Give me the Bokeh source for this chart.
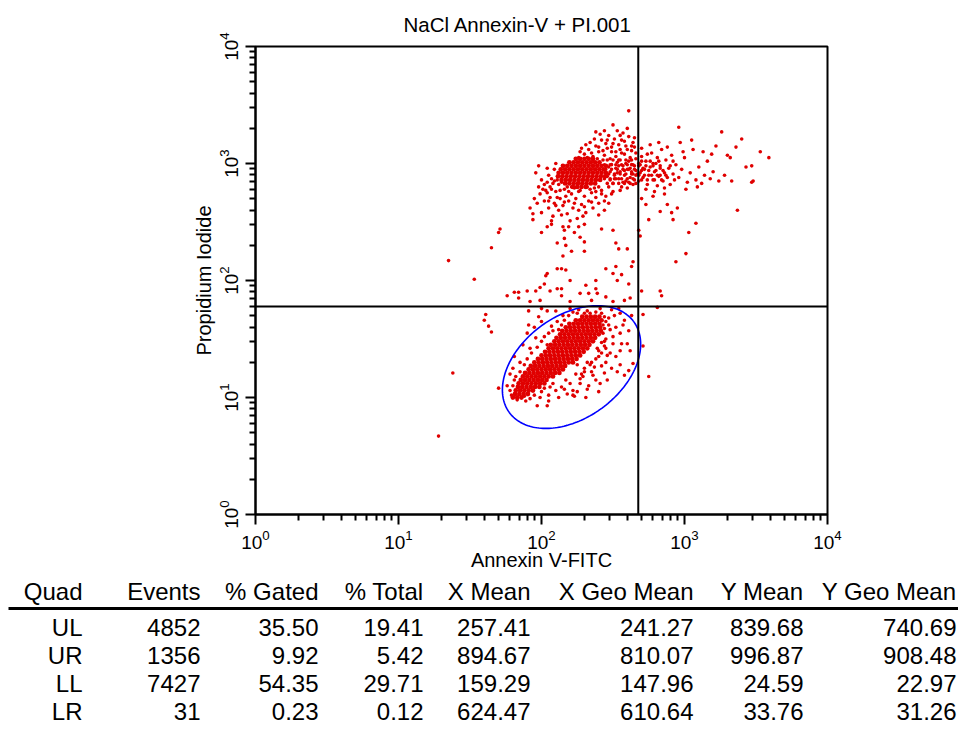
import numpy as np
from bokeh.plotting import figure
from bokeh.models import Span, Range1d, ColumnDataSource, FixedTicker
from bokeh.embed import file_html
from bokeh.resources import INLINE
from bokeh.core.properties import value

FONT = "Liberation Sans"

# ---------------- data (log10 of fluorescence intensity) ----------------
# Lower-left (viable) dense population, one list of x per row of y
ll_core_logy = [1.00, 1.03, 1.06, 1.09, 1.12, 1.15, 1.18, 1.21, 1.24, 1.27, 1.30, 1.33,
                1.36, 1.39, 1.42, 1.45, 1.48, 1.51, 1.54, 1.57, 1.60, 1.63, 1.66, 1.69]
ll_core_logx = [
    [1.80, 1.83, 1.86],
    [1.815, 1.845, 1.875, 1.905],
    [1.82, 1.85, 1.88, 1.91, 1.94],
    [1.835, 1.865, 1.895, 1.925, 1.955, 1.985],
    [1.84, 1.87, 1.90, 1.93, 1.96, 1.99, 2.02],
    [1.855, 1.885, 1.915, 1.945, 1.975, 2.005, 2.035],
    [1.87, 1.90, 1.93, 1.96, 1.99, 2.02, 2.05, 2.08],
    [1.885, 1.915, 1.945, 1.975, 2.005, 2.035, 2.065, 2.095, 2.125],
    [1.91, 1.94, 1.97, 2.00, 2.03, 2.06, 2.09, 2.12, 2.15],
    [1.925, 1.955, 1.985, 2.015, 2.045, 2.075, 2.105, 2.135, 2.165],
    [1.95, 1.98, 2.01, 2.04, 2.07, 2.10, 2.13, 2.16, 2.19, 2.22],
    [1.975, 2.005, 2.035, 2.065, 2.095, 2.125, 2.155, 2.185, 2.215, 2.245],
    [2.00, 2.03, 2.06, 2.09, 2.12, 2.15, 2.18, 2.21, 2.24, 2.27],
    [2.025, 2.055, 2.085, 2.115, 2.145, 2.175, 2.205, 2.235, 2.265, 2.295],
    [2.05, 2.08, 2.11, 2.14, 2.17, 2.20, 2.23, 2.26, 2.29, 2.32],
    [2.065, 2.095, 2.125, 2.155, 2.185, 2.215, 2.245, 2.275, 2.305, 2.335],
    [2.09, 2.12, 2.15, 2.18, 2.21, 2.24, 2.27, 2.30, 2.33, 2.36],
    [2.105, 2.135, 2.165, 2.195, 2.225, 2.255, 2.285, 2.315, 2.345, 2.375],
    [2.13, 2.16, 2.19, 2.22, 2.25, 2.28, 2.31, 2.34, 2.37, 2.40],
    [2.145, 2.175, 2.205, 2.235, 2.265, 2.295, 2.325, 2.355, 2.385, 2.415],
    [2.17, 2.20, 2.23, 2.26, 2.29, 2.32, 2.35, 2.38, 2.41],
    [2.195, 2.225, 2.255, 2.285, 2.315, 2.345, 2.375, 2.405],
    [2.24, 2.27, 2.30, 2.33, 2.36, 2.39, 2.42],
    [2.285, 2.315, 2.345, 2.375, 2.405],
]

# Upper-left (late apoptotic / necrotic) dense population
ul_core_logy = [2.80, 2.83, 2.86, 2.89, 2.92, 2.95, 2.98, 3.01, 3.04]
ul_core_logx = [
    [2.22, 2.25, 2.28, 2.31],
    [2.165, 2.195, 2.225, 2.255, 2.285, 2.315, 2.345, 2.375],
    [2.14, 2.17, 2.20, 2.23, 2.26, 2.29, 2.32, 2.35, 2.38, 2.41],
    [2.115, 2.145, 2.175, 2.205, 2.235, 2.265, 2.295, 2.325, 2.355, 2.385, 2.415, 2.445],
    [2.12, 2.15, 2.18, 2.21, 2.24, 2.27, 2.30, 2.33, 2.36, 2.39, 2.42, 2.45],
    [2.135, 2.165, 2.195, 2.225, 2.255, 2.285, 2.315, 2.345, 2.375, 2.405, 2.435],
    [2.15, 2.18, 2.21, 2.24, 2.27, 2.30, 2.33, 2.36, 2.39, 2.42, 2.45],
    [2.195, 2.225, 2.255, 2.285, 2.315, 2.345, 2.375, 2.405],
    [2.24, 2.27, 2.30, 2.33, 2.36],
]

ul_upper = [(2.30, 3.08), (2.33, 3.12), (2.36, 3.06), (2.38, 3.15), (2.40, 3.10), (2.42, 3.20),
            (2.44, 3.07), (2.46, 3.13), (2.47, 3.24), (2.49, 3.10), (2.50, 3.17), (2.52, 3.06),
            (2.53, 3.28), (2.55, 3.12), (2.56, 3.20), (2.58, 3.08), (2.59, 3.15), (2.61, 3.23),
            (2.62, 3.05), (2.63, 3.11), (2.64, 3.18), (2.66, 3.09), (2.34, 3.18), (2.27, 3.10),
            (2.41, 3.25), (2.51, 3.21), (2.45, 3.17), (2.57, 3.26), (2.60, 3.30), (2.48, 3.04),
            (2.39, 3.04), (2.54, 3.03), (2.65, 3.14), (2.43, 3.03), (2.26, 3.05), (2.61, 3.45),
            (2.50, 3.33), (2.44, 3.28), (2.28, 3.13), (2.31, 3.16), (2.35, 3.09), (2.37, 3.21),
            (2.40, 3.14), (2.43, 3.11), (2.46, 3.20), (2.49, 3.14), (2.52, 3.10), (2.54, 3.16),
            (2.56, 3.09), (2.58, 3.19), (2.60, 3.12), (2.63, 3.15), (2.65, 3.22), (2.38, 3.27),
            (2.55, 3.24), (2.66, 3.04), (2.32, 3.05), (2.36, 3.03)]

ul_right = [(2.47, 2.80), (2.48, 2.86), (2.48, 2.93), (2.49, 2.99), (2.50, 2.83), (2.51, 2.90),
            (2.52, 2.96), (2.53, 3.01), (2.54, 2.87), (2.55, 2.93), (2.56, 2.80), (2.57, 2.98),
            (2.58, 2.90), (2.59, 2.85), (2.60, 2.95), (2.61, 3.02), (2.62, 2.88), (2.63, 2.93),
            (2.64, 2.82), (2.65, 2.98), (2.66, 2.90), (2.50, 2.76), (2.55, 2.77), (2.60, 2.79),
            (2.65, 2.86), (2.47, 2.97), (2.53, 2.92), (2.57, 2.84), (2.62, 2.96), (2.66, 2.94),
            (2.46, 2.89), (2.59, 3.00), (2.63, 2.99), (2.54, 2.98), (2.58, 2.94), (2.51, 2.87),
            (2.64, 2.91), (2.61, 2.84),
            (2.46, 2.83), (2.50, 2.83), (2.54, 2.83), (2.58, 2.83), (2.62, 2.83), (2.66, 2.83),
            (2.44, 2.87), (2.48, 2.87), (2.52, 2.87), (2.56, 2.87), (2.60, 2.87), (2.64, 2.87),
            (2.47, 2.91), (2.51, 2.91), (2.55, 2.91), (2.59, 2.91), (2.63, 2.91), (2.67, 2.91),
            (2.45, 2.95), (2.49, 2.95), (2.53, 2.95), (2.57, 2.95), (2.61, 2.95), (2.65, 2.95),
            (2.44, 2.99), (2.48, 2.99), (2.52, 2.99), (2.56, 2.99), (2.60, 2.99), (2.64, 2.99),
            (2.46, 3.03), (2.50, 3.03), (2.55, 3.03), (2.59, 3.03), (2.63, 3.03)]

ul_lower = [(1.92, 2.62), (1.95, 2.70), (1.97, 2.66), (1.99, 2.74), (2.00, 2.58), (2.02, 2.68),
            (2.03, 2.77), (2.05, 2.62), (2.06, 2.71), (2.08, 2.55), (2.09, 2.66), (2.10, 2.76),
            (2.12, 2.60), (2.13, 2.70), (2.15, 2.64), (2.16, 2.78), (2.18, 2.57), (2.19, 2.68),
            (2.21, 2.74), (2.22, 2.62), (2.24, 2.70), (2.25, 2.53), (2.27, 2.77), (2.28, 2.65),
            (2.30, 2.72), (2.31, 2.58), (2.33, 2.68), (2.35, 2.75), (2.36, 2.62), (2.38, 2.71),
            (2.40, 2.66), (2.42, 2.77), (2.44, 2.60), (2.02, 2.82), (2.06, 2.80), (2.09, 2.85),
            (1.98, 2.80), (2.12, 2.82), (2.04, 2.75), (2.07, 2.51), (2.20, 2.51), (2.29, 2.55),
            (2.14, 2.56), (1.94, 2.57), (2.17, 2.72), (2.26, 2.60), (2.11, 2.71), (2.23, 2.79),
            (2.32, 2.80), (2.37, 2.79), (2.40, 2.56), (2.45, 2.72), (2.47, 2.66), (2.49, 2.74),
            (2.01, 2.78), (2.04, 2.84), (2.07, 2.78), (2.08, 2.83), (2.13, 2.77), (2.14, 2.84),
            (2.18, 2.80), (2.19, 2.76), (2.21, 2.80), (2.26, 2.76), (2.28, 2.80), (2.34, 2.78),
            (2.40, 2.80), (2.42, 2.74), (2.38, 2.76), (2.05, 2.68), (2.10, 2.64), (2.16, 2.67),
            (2.23, 2.66), (2.30, 2.63), (2.35, 2.67), (2.44, 2.68)]

ul_left = [(2.05, 2.90), (2.09, 2.95), (2.07, 2.87), (2.10, 3.00), (2.11, 2.86), (1.96, 2.92),
           (2.04, 2.96), (2.00, 2.86), (1.98, 2.98)]

ur_near = [(2.68, 2.85), (2.69, 2.92), (2.69, 2.99), (2.70, 3.06), (2.71, 2.88), (2.72, 2.95),
           (2.73, 3.02), (2.74, 2.82), (2.75, 2.90), (2.76, 2.97), (2.77, 3.09), (2.78, 2.86),
           (2.79, 2.93), (2.80, 3.00), (2.81, 2.81), (2.82, 2.89), (2.83, 2.96), (2.84, 3.12),
           (2.85, 2.85), (2.86, 2.92), (2.87, 3.03), (2.88, 2.88), (2.89, 2.96), (2.90, 2.82),
           (2.91, 3.07), (2.92, 2.91), (2.93, 2.86), (2.94, 2.99), (2.70, 3.13), (2.76, 3.16),
           (2.82, 3.18), (2.88, 3.14), (2.73, 2.78), (2.79, 2.76), (2.86, 2.79), (2.92, 3.02),
           (2.71, 2.96), (2.74, 3.08), (2.78, 3.00), (2.81, 3.05), (2.68, 3.00), (2.83, 2.90),
           (2.70, 2.86), (2.74, 2.86), (2.79, 2.86), (2.84, 2.86), (2.68, 2.90), (2.72, 2.90),
           (2.77, 2.90), (2.81, 2.90), (2.87, 2.90), (2.70, 2.94), (2.75, 2.94), (2.80, 2.94),
           (2.85, 2.94), (2.68, 2.98), (2.73, 2.98), (2.78, 2.98), (2.83, 2.98), (2.90, 2.98),
           (2.70, 3.02), (2.76, 3.02), (2.82, 3.02)]

ur_mid = [(2.96, 2.88), (2.98, 2.95), (3.00, 3.05), (3.02, 2.84), (3.04, 2.92), (3.06, 3.12),
          (3.08, 2.86), (3.10, 2.97), (3.12, 2.83), (3.14, 2.90), (3.16, 3.02), (3.18, 2.87),
          (3.20, 2.93), (3.22, 3.15), (3.24, 2.85), (2.97, 3.18), (3.05, 3.20), (3.13, 3.10),
          (3.01, 2.78), (3.09, 2.80), (3.19, 3.08), (2.99, 3.10)]

ur_far = [(3.28, 2.90), (3.30, 3.07), (3.33, 2.85), (3.36, 3.14), (3.43, 2.97), (3.48, 2.85),
          (3.59, 3.05), (3.40, 3.21), (3.47, 2.84), (3.26, 3.27), (2.96, 3.31), (3.47, 2.98),
          (3.32, 3.05), (3.37, 2.60), (3.53, 3.10)]

ur_low = [(2.70, 1.91), (2.83, 1.91), (2.84, 1.87), (2.68, 2.43), (2.69, 2.38), (2.94, 2.16),
          (3.01, 2.23), (3.08, 2.49), (3.03, 2.41), (2.92, 2.52), (2.95, 2.62), (2.91, 2.58),
          (2.88, 2.65), (2.83, 2.59), (2.73, 2.65), (2.70, 2.70), (2.78, 2.72), (2.86, 2.74),
          (2.75, 2.52)]

mid = [(1.35, 2.17), (1.53, 2.01), (1.65, 2.28), (1.70, 2.41), (1.71, 2.44), (1.94, 2.52),
       (2.00, 2.41), (2.04, 2.46), (2.07, 2.48), (2.11, 2.32), (2.15, 2.46), (2.16, 2.43),
       (2.16, 2.36), (2.17, 2.30), (2.19, 2.46), (2.21, 2.25), (2.15, 2.21), (2.23, 2.41),
       (2.26, 2.46), (2.27, 2.37), (2.30, 2.48), (2.30, 2.33), (2.30, 2.25), (2.42, 2.44),
       (2.50, 2.43), (2.52, 2.32), (2.54, 2.27), (2.60, 2.27), (2.64, 2.16), (2.63, 2.12),
       (2.45, 2.10), (2.52, 2.12), (2.50, 2.06), (2.56, 2.05), (2.53, 2.00), (2.61, 1.97),
       (2.38, 2.00), (2.38, 1.93), (2.39, 1.89), (2.11, 2.10), (2.14, 2.10), (2.17, 2.09),
       (2.04, 2.06), (2.03, 2.04), (2.02, 1.97), (1.99, 1.94), (1.96, 1.91), (2.06, 1.91),
       (2.11, 1.93), (2.14, 1.93), (2.20, 2.00), (1.90, 1.91), (1.84, 1.90), (1.81, 1.90),
       (1.76, 1.87), (1.84, 1.85), (1.92, 1.82), (1.99, 1.83), (2.27, 1.89), (2.33, 1.89),
       (2.35, 1.83), (2.14, 1.87), (2.20, 1.82), (2.58, 1.83), (2.62, 1.85), (2.50, 1.82),
       (2.45, 1.86), (2.31, 1.96)]

ll_sparse = [(1.61, 1.71), (1.60, 1.66), (1.63, 1.61), (1.65, 1.56), (1.38, 1.21), (1.28, 0.67),
             (1.70, 1.08), (1.91, 1.74), (2.00, 1.76), (2.04, 1.74), (1.98, 1.69), (1.91, 1.62),
             (1.96, 1.51), (1.92, 1.42), (1.81, 1.35), (1.97, 0.93), (2.04, 0.93), (2.05, 0.97),
             (2.22, 1.02), (2.23, 1.01), (2.16, 1.07), (1.89, 0.97), (1.83, 0.98), (1.81, 1.15),
             (2.07, 1.61), (2.11, 1.65), (2.15, 1.70), (2.25, 1.72), (2.32, 1.74), (2.41, 1.76),
             (2.49, 1.75), (2.54, 1.76), (2.55, 1.72), (2.57, 1.62), (2.61, 1.57), (2.55, 1.55),
             (2.60, 1.46), (2.55, 1.40), (2.50, 1.46), (2.48, 1.38), (2.61, 1.23), (2.58, 1.19),
             (2.64, 1.29), (2.55, 1.28), (2.49, 1.25), (2.44, 1.21), (2.41, 1.12), (2.36, 1.19),
             (2.32, 1.07), (2.29, 1.18), (1.87, 1.45), (1.90, 1.55), (1.95, 1.60), (1.85, 1.30),
             (1.80, 1.25), (1.78, 1.20), (1.76, 1.10), (2.00, 1.65), (2.10, 1.74), (2.20, 1.76),
             (2.30, 1.25), (2.35, 1.30), (2.40, 1.35), (2.45, 1.42), (2.50, 1.52), (2.38, 1.15),
             (2.27, 1.12), (2.45, 1.30), (2.52, 1.35), (2.44, 1.48), (2.48, 1.58), (2.43, 1.62),
             (2.47, 1.68), (2.51, 1.70), (2.35, 1.22), (2.25, 1.05), (2.18, 1.03), (2.12, 1.00),
             (2.05, 1.02), (2.00, 1.05), (2.14, 1.09), (2.28, 1.20), (2.56, 1.46), (2.33, 1.10),
             (2.42, 1.27), (2.46, 1.36), (2.39, 1.42), (2.52, 1.60), (2.58, 1.66), (2.63, 1.70),
             (2.62, 1.40), (2.40, 1.05), (2.31, 1.00), (2.53, 1.22), (2.46, 1.15)]

ll_halo = [(2.12, 1.58), (2.14, 1.62), (2.16, 1.66), (2.19, 1.70), (2.22, 1.73), (2.26, 1.75),
           (2.30, 1.72), (2.34, 1.72), (2.38, 1.73), (2.42, 1.72), (2.44, 1.69), (2.45, 1.65),
           (2.44, 1.59), (2.47, 1.62), (2.43, 1.55), (2.45, 1.50), (2.42, 1.47), (2.44, 1.44),
           (2.40, 1.40), (2.38, 1.33), (2.42, 1.38), (2.34, 1.28), (2.37, 1.26), (2.30, 1.22),
           (2.32, 1.30), (2.27, 1.16), (2.24, 1.20), (2.20, 1.12), (2.17, 1.15), (2.10, 1.06),
           (2.08, 1.12), (2.06, 1.09), (2.02, 1.08), (1.99, 1.00), (1.95, 1.02), (1.92, 0.99),
           (1.88, 1.01), (1.79, 1.02), (1.78, 1.06), (1.80, 1.10), (1.82, 1.18), (1.85, 1.22),
           (1.88, 1.28), (1.90, 1.33), (1.93, 1.38), (1.97, 1.43), (2.00, 1.48), (2.02, 1.52),
           (2.05, 1.55), (2.08, 1.57), (2.04, 1.45), (2.25, 1.28), (2.22, 1.06)]

lr = [(2.71, 1.44), (2.75, 1.18), (2.71, 1.71), (2.81, 1.77)]

# quadrant markers and elliptical gate (log10 units)
quad_x = 475.0
quad_y = 60.0
gate_center = (2.21, 1.26)
gate_u = (0.432, 0.393)
gate_v = (-0.217, 0.347)

# statistics table
header = ["Quad", "Events", "% Gated", "% Total", "X Mean", "X Geo Mean", "Y Mean", "Y Geo Mean"]
quads = ["UL", "UR", "LL", "LR"]
events = [4852, 1356, 7427, 31]
pct_gated = [35.50, 9.92, 54.35, 0.23]
pct_total = [19.41, 5.42, 29.71, 0.12]
x_mean = [257.41, 894.67, 159.29, 624.47]
x_geo_mean = [241.27, 810.07, 147.96, 610.64]
y_mean = [839.68, 996.87, 24.59, 33.76]
y_geo_mean = [740.69, 908.48, 22.97, 31.26]

# ---------------- assemble points ----------------
cx_, cy_ = [], []
for yy, row in zip(ll_core_logy, ll_core_logx):
    cx_ += row
    cy_ += [yy] * len(row)
for yy, row in zip(ul_core_logy, ul_core_logx):
    cx_ += row
    cy_ += [yy] * len(row)
core = ColumnDataSource(dict(x=10 ** np.array(cx_), y=10 ** np.array(cy_)))

sx_, sy_ = [], []
for grp in (ul_upper, ul_right, ul_lower, ul_left, ur_near, ur_mid, ur_far, ur_low, mid,
            ll_sparse, ll_halo, lr):
    sx_ += [a for a, b in grp]
    sy_ += [b for a, b in grp]
spread = ColumnDataSource(dict(x=10 ** np.array(sx_), y=10 ** np.array(sy_)))

# ---------------- dot plot ----------------
PH = 576
p = figure(width=958, height=PH, x_axis_type="log", y_axis_type="log",
           x_range=Range1d(1, 1e4), y_range=Range1d(1, 1e4),
           output_backend="svg", toolbar_location=None,
           min_border_left=255, min_border_right=131, min_border_top=40, min_border_bottom=62)
p.grid.visible = False
p.outline_line_color = "black"
p.outline_line_width = 2
p.background_fill_color = "white"
p.border_fill_color = "white"

p.title.text = "NaCl Annexin-V + PI.001"
p.title.align = "left"
p.title.offset = 148
p.title.standoff = 21
p.title.text_font = FONT
p.title.text_font_size = "20.5px"
p.title.text_font_style = "normal"
p.title.text_color = "black"

major = [1, 10, 100, 1000, 10000]
minor = [m * 10 ** e for e in range(4) for m in range(2, 10)]
for ax in (p.xaxis[0], p.yaxis[0]):
    ax.ticker = FixedTicker(ticks=major, minor_ticks=minor)
    ax.axis_line_width = 2
    ax.major_tick_line_width = 2
    ax.minor_tick_line_width = 2
    ax.major_tick_out = 10
    ax.major_tick_in = 0
    ax.minor_tick_out = 6
    ax.minor_tick_in = 0
    ax.major_label_text_font = FONT
    ax.major_label_text_font_size = "19px"
    ax.major_label_text_color = "black"
    ax.axis_label_text_font = FONT
    ax.axis_label_text_font_size = "20px"
    ax.axis_label_text_font_style = "normal"
    ax.axis_label_text_color = "black"

p.xaxis.major_label_standoff = 5
p.xaxis.axis_label_standoff = -3
p.yaxis.major_label_standoff = 8
p.yaxis.axis_label_standoff = 1

p.xaxis.axis_label = "Annexin V-FITC"
p.yaxis.axis_label = "Propidium Iodide"
p.yaxis.major_label_orientation = "vertical"

p.scatter("x", "y", source=core, size=4.8, fill_color="#e00000", line_color=None)
p.scatter("x", "y", source=spread, size=3.6, fill_color="#e00000", line_color=None)

t_ang = np.linspace(0, 2 * np.pi, 200)
gx = 10 ** (gate_center[0] + gate_u[0] * np.cos(t_ang) + gate_v[0] * np.sin(t_ang))
gy = 10 ** (gate_center[1] + gate_u[1] * np.cos(t_ang) + gate_v[1] * np.sin(t_ang))
p.line(gx, gy, line_color="#0000ff", line_width=1.6)

p.add_layout(Span(location=quad_x, dimension="height", line_color="black", line_width=2))
p.add_layout(Span(location=quad_y, dimension="width", line_color="black", line_width=2))

# ---------------- statistics table ----------------
TH = 162
t = figure(width=958, height=TH, x_range=Range1d(0, 958), y_range=Range1d(TH, 0),
           output_backend="svg", toolbar_location=None, min_border=0)
t.axis.visible = False
t.grid.visible = False
t.outline_line_color = None

col_right = [82, 200, 318, 423, 530, 693, 803, 956]
header_y = 15
row_y = [51, 79, 107, 135]

t.text(x=col_right, y=[header_y] * len(header), text=header, text_align="right",
       text_baseline="middle", text_font=value(FONT), text_font_size="24px", text_color="black")
t.segment(x0=[8], y0=[32], x1=[958], y1=[32], line_color="black", line_width=3)

columns = [quads,
           [str(v) for v in events],
           [f"{v:.2f}" for v in pct_gated],
           [f"{v:.2f}" for v in pct_total],
           [f"{v:.2f}" for v in x_mean],
           [f"{v:.2f}" for v in x_geo_mean],
           [f"{v:.2f}" for v in y_mean],
           [f"{v:.2f}" for v in y_geo_mean]]
tx, ty, tt = [], [], []
for cx, vals in zip(col_right, columns):
    for ry, v in zip(row_y, vals):
        tx.append(cx)
        ty.append(ry)
        tt.append(v)
t.text(x=tx, y=ty, text=tt, text_align="right", text_baseline="middle",
       text_font=value(FONT), text_font_size="24px", text_color="black")

open("out.html", "w").write(file_html([p, t], INLINE))
